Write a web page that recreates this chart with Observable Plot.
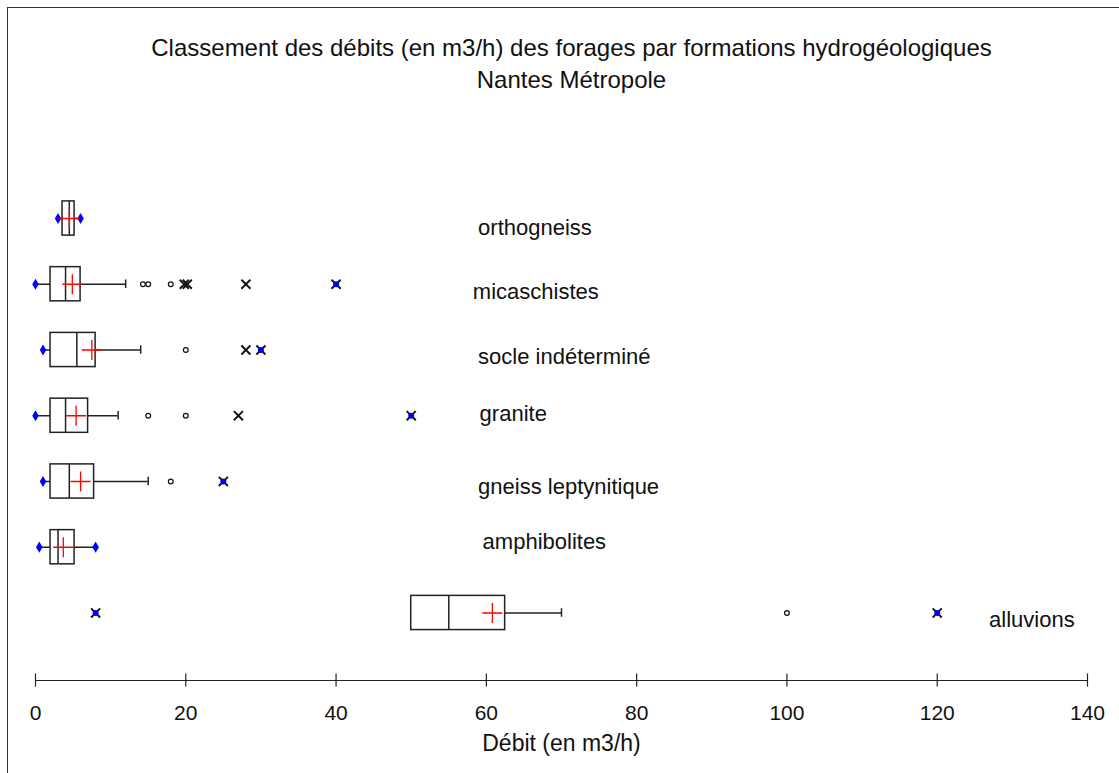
<!DOCTYPE html>
<html>
<head>
<meta charset="utf-8">
<script src="https://cdn.jsdelivr.net/npm/d3@7"></script>
<script src="https://cdn.jsdelivr.net/npm/@observablehq/plot@0.6"></script>
<style>
  html, body { margin: 0; padding: 0; background: #fff; }
  body { width: 1119px; height: 773px; overflow: hidden; position: relative; font-family: "Liberation Sans", Arial, sans-serif; }
  #frame { position: absolute; left: 7px; top: 7px; width: 1130px; height: 800px; border-left: 1.5px solid #333; border-top: 1.5px solid #333; box-sizing: border-box; z-index: 5; pointer-events: none; }
  #title { position: absolute; left: 0; top: 0; width: 1143px; height: 112px; text-align: center; color: #111; font-size: 24px; }
  #title div { position: absolute; left: 0; width: 100%; line-height: 28px; }
  #chart { position: absolute; left: 0; top: 112px; }
</style>
</head>
<body>
<div id="title">
  <div style="top:34px">Classement des débits (en m3/h) des forages par formations hydrogéologiques</div>
  <div style="top:66px">Nantes Métropole</div>
</div>
<div id="chart"></div>
<div id="frame"></div>
<script>
// ---- data ----
const categories = ["orthogneiss", "micaschistes", "socle indéterminé", "granite", "gneiss leptynitique", "amphibolites", "alluvions"];
const q1Values = [3.6, 2, 2, 2, 2, 2, 50];
const medianValues = [4.5, 4, 5.5, 4, 4.5, 3, 55];
const q3Values = [5.2, 6, 8, 7, 7.8, 5.2, 62.5];
const whiskerLowValues = [3, 0, 1, 0, 1, 0.5, 50];
const whiskerHighValues = [6, 12, 14, 11, 15, 8, 70];
const meanValues = [4.5, 4.9, 7.5, 5.4, 6, 3.7, 60.8];
const minValues = [3, 0, 1, 0, 1, 0.5, 8];
const maxValues = [6, 40, 30, 50, 25, 8, 120];
const moderateOutliers = [
  ["micaschistes", 14.3], ["micaschistes", 15], ["micaschistes", 18],
  ["socle indéterminé", 20],
  ["granite", 15], ["granite", 20],
  ["gneiss leptynitique", 18],
  ["alluvions", 100]
];
const extremeOutliers = [
  ["micaschistes", 19.8], ["micaschistes", 20.2], ["micaschistes", 28], ["micaschistes", 40],
  ["socle indéterminé", 28], ["socle indéterminé", 30],
  ["granite", 27], ["granite", 50],
  ["gneiss leptynitique", 25],
  ["alluvions", 8], ["alluvions", 120]
];
const labelX = [58.9, 58.2, 58.9, 59.1, 58.9, 59.5, 126.9];
const labelY = [0.15, 1.11, 2.1, 2.97, 4.09, 4.92, 6.11];
const xTicks = [0, 20, 40, 60, 80, 100, 120, 140];
const xLabel = "Débit (en m3/h)";

// ---- build tables ----
const rows = categories.map((c, i) => ({
  c, i,
  q1: q1Values[i], med: medianValues[i], q3: q3Values[i],
  wlo: whiskerLowValues[i], whi: whiskerHighValues[i],
  mean: meanValues[i], min: minValues[i], max: maxValues[i],
  lx: labelX[i], ly: labelY[i]
}));
const idx = c => categories.indexOf(c);
const moderate = moderateOutliers.map(([c, v]) => ({ i: idx(c), v }));
const extreme = extremeOutliers.map(([c, v]) => ({ i: idx(c), v }));
const extremes = [];
rows.forEach(d => {
  extremes.push({ i: d.i, v: d.min, inside: d.min >= d.wlo });
  extremes.push({ i: d.i, v: d.max, inside: d.max <= d.whi });
});

const axisPos = 7.027;
const half = 0.26;
const capHalf = 0.065;
const tickHalf = 0.1;

const plot = Plot.plot({
  width: 1119,
  height: 661,
  marginLeft: 35,
  marginRight: 32,
  marginTop: 106,
  marginBottom: 93,
  x: { domain: [0, 140], axis: null },
  y: { domain: [0, axisPos], reverse: true, axis: null },
  style: { fontFamily: "'Liberation Sans', Arial, sans-serif", background: "white", color: "#111" },
  marks: [
    // axis
    Plot.ruleY([axisPos], { x1: 0, x2: 140, stroke: "#222", strokeWidth: 1.2 }),
    Plot.ruleX(xTicks, { x: d => d, y1: () => axisPos - tickHalf, y2: () => axisPos + tickHalf, stroke: "#222", strokeWidth: 1.2 }),
    Plot.text(xTicks, { x: d => d, y: () => axisPos, dy: 33, text: d => String(d), fontSize: 21, fill: "#111" }),
    Plot.text([xLabel], { frameAnchor: "bottom", dy: 70, text: d => d, fontSize: 23, fill: "#111" }),
    // whiskers
    Plot.ruleY(rows.filter(d => d.wlo < d.q1), { y: "i", x1: "wlo", x2: "q1", stroke: "#222", strokeWidth: 1.5 }),
    Plot.ruleY(rows.filter(d => d.whi > d.q3), { y: "i", x1: "q3", x2: "whi", stroke: "#222", strokeWidth: 1.5 }),
    Plot.ruleX(rows.filter(d => d.whi < d.max), { x: "whi", y1: d => d.i - capHalf, y2: d => d.i + capHalf, stroke: "#222", strokeWidth: 1.5 }),
    // boxes
    Plot.rect(rows, { x1: "q1", x2: "q3", y1: d => d.i - half, y2: d => d.i + half, fill: "white", stroke: "#222", strokeWidth: 1.5 }),
    Plot.ruleX(rows, { x: "med", y1: d => d.i - half, y2: d => d.i + half, stroke: "#222", strokeWidth: 1.5 }),
    // outliers
    Plot.dot(moderate, { x: "v", y: "i", r: 2.4, fill: "white", stroke: "#111", strokeWidth: 1.2 }),
    Plot.dot(extreme, { x: "v", y: "i", symbol: "times", r: 4.2, stroke: "#111", strokeWidth: 1.9 }),
    Plot.dot(extremes.filter(d => !d.inside), { x: "v", y: "i", r: 3.0, fill: "#0000ff", stroke: "none" }),
    Plot.dot(extremes.filter(d => d.inside), { x: "v", y: "i", symbol: "diamond", r: 3.4, fill: "#0000ff", stroke: "none" }),
    // means
    Plot.dot(rows, { x: "mean", y: "i", symbol: "plus", r: 6.5, stroke: "#ff0000", strokeWidth: 1.3 }),
    // category labels
    Plot.text(rows, { x: "lx", y: "ly", text: "c", textAnchor: "start", fontSize: 22, fill: "#111" })
  ]
});
document.getElementById("chart").appendChild(plot);
</script>
</body>
</html>
